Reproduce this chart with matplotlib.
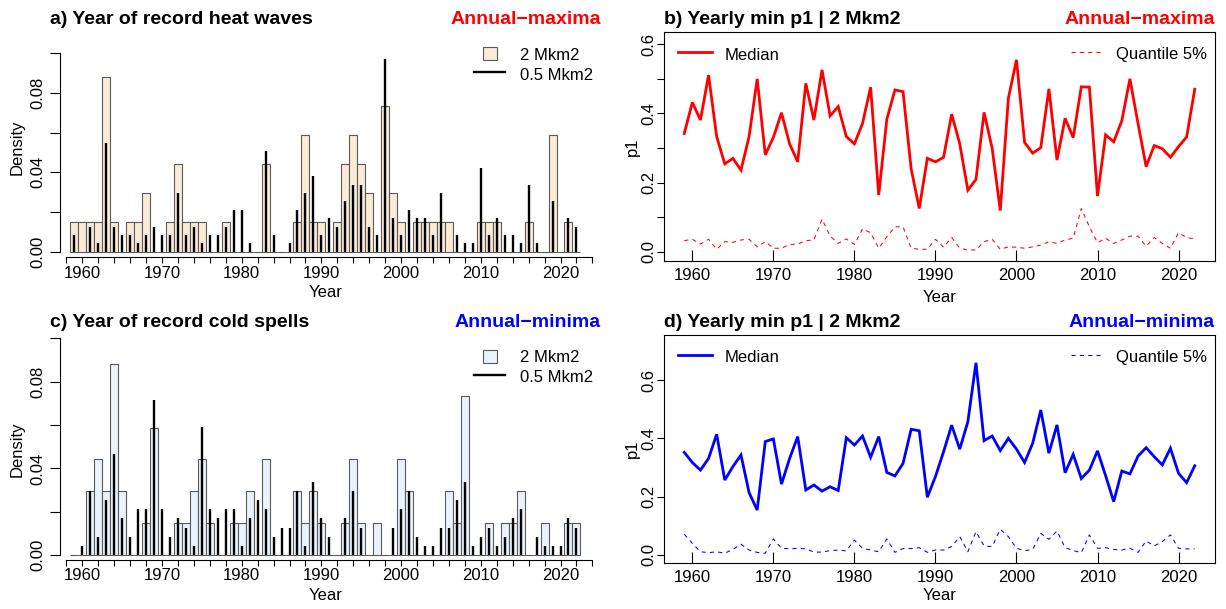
import numpy as np
import matplotlib
matplotlib.use("Agg")
import matplotlib.pyplot as plt
from matplotlib.patches import Rectangle
from matplotlib.lines import Line2D

plt.rcParams['font.family'] = ['Liberation Sans', 'DejaVu Sans']

# ---- data ----
years = np.arange(1959, 2023)

# record counts per year, 2 Mkm2 regions (histogram, density = count / total)
heat_2mkm2 = [1, 1, 1, 1, 6, 1, 0, 1, 1, 2,
              0, 0, 1, 3, 1, 1, 1, 0, 0, 1,
              0, 0, 0, 0, 3, 0, 0, 0, 1, 4,
              1, 1, 0, 1, 3, 4, 3, 2, 0, 5,
              2, 1, 0, 1, 1, 1, 1, 1, 0, 0,
              0, 1, 1, 1, 0, 0, 0, 1, 0, 0,
              4, 0, 1, 0]
cold_2mkm2 = [0, 0, 2, 3, 2, 6, 2, 0, 0, 1,
              4, 0, 0, 1, 1, 2, 3, 1, 0, 0,
              1, 1, 2, 0, 3, 0, 0, 0, 2, 1,
              2, 1, 0, 0, 1, 3, 1, 0, 1, 0,
              0, 3, 2, 0, 0, 0, 0, 2, 1, 5,
              0, 0, 1, 0, 1, 1, 2, 0, 0, 1,
              0, 0, 1, 1]
# record counts per year, 0.5 Mkm2 regions
heat_05mkm2 = [2, 0, 3, 1, 13, 3, 2, 2, 1, 2,
               3, 2, 2, 7, 2, 3, 1, 2, 2, 3,
               5, 5, 1, 0, 12, 2, 0, 1, 5, 7,
               9, 2, 4, 3, 6, 8, 8, 3, 2, 23,
               4, 2, 5, 4, 4, 2, 7, 0, 2, 1,
               1, 10, 2, 4, 2, 2, 1, 8, 1, 0,
               6, 0, 4, 3]
cold_05mkm2 = [0, 1, 7, 2, 6, 11, 4, 2, 5, 5,
               17, 5, 2, 4, 3, 1, 14, 5, 4, 5,
               5, 1, 4, 6, 5, 2, 3, 3, 7, 1,
               8, 4, 2, 0, 4, 7, 3, 0, 0, 0,
               3, 5, 7, 2, 1, 1, 3, 3, 6, 8,
               1, 2, 3, 1, 2, 4, 5, 0, 2, 1,
               1, 1, 4, 3]

# yearly min p1 | 2 Mkm2
max_median = [0.342, 0.432, 0.381, 0.511, 0.333, 0.254, 0.270, 0.236, 0.333, 0.500,
              0.280, 0.331, 0.402, 0.312, 0.260, 0.487, 0.381, 0.526, 0.393, 0.420,
              0.333, 0.312, 0.371, 0.476, 0.164, 0.383, 0.468, 0.463, 0.240, 0.125,
              0.270, 0.260, 0.273, 0.398, 0.312, 0.178, 0.209, 0.403, 0.299, 0.119,
              0.444, 0.555, 0.316, 0.285, 0.301, 0.471, 0.265, 0.386, 0.330, 0.477,
              0.476, 0.161, 0.338, 0.318, 0.379, 0.500, 0.371, 0.246, 0.307, 0.298,
              0.273, 0.304, 0.332, 0.470]
max_q05 = [0.032, 0.036, 0.022, 0.036, 0.007, 0.029, 0.027, 0.034, 0.036, 0.014,
           0.029, 0.010, 0.010, 0.021, 0.022, 0.032, 0.034, 0.094, 0.045, 0.024,
           0.037, 0.021, 0.066, 0.055, 0.010, 0.043, 0.072, 0.072, 0.010, 0.007,
           0.007, 0.036, 0.013, 0.041, 0.010, 0.005, 0.005, 0.029, 0.036, 0.007,
           0.014, 0.013, 0.010, 0.014, 0.019, 0.029, 0.024, 0.034, 0.039, 0.125,
           0.072, 0.026, 0.039, 0.024, 0.034, 0.045, 0.045, 0.016, 0.041, 0.024,
           0.010, 0.055, 0.041, 0.037]
min_median = [0.352, 0.317, 0.291, 0.331, 0.414, 0.257, 0.303, 0.343, 0.214, 0.154,
              0.389, 0.398, 0.243, 0.331, 0.406, 0.223, 0.240, 0.219, 0.234, 0.221,
              0.402, 0.377, 0.408, 0.335, 0.406, 0.283, 0.271, 0.314, 0.431, 0.426,
              0.198, 0.269, 0.354, 0.445, 0.363, 0.457, 0.659, 0.392, 0.408, 0.358,
              0.400, 0.363, 0.317, 0.383, 0.497, 0.349, 0.446, 0.282, 0.345, 0.262,
              0.291, 0.357, 0.272, 0.183, 0.288, 0.278, 0.339, 0.368, 0.337, 0.309,
              0.366, 0.280, 0.248, 0.306]
min_q05 = [0.071, 0.040, 0.011, 0.008, 0.011, 0.006, 0.019, 0.037, 0.017, 0.009,
           0.006, 0.055, 0.023, 0.021, 0.023, 0.021, 0.010, 0.010, 0.015, 0.017,
           0.014, 0.051, 0.023, 0.017, 0.011, 0.055, 0.009, 0.022, 0.022, 0.025,
           0.009, 0.017, 0.017, 0.029, 0.063, 0.011, 0.080, 0.031, 0.029, 0.088,
           0.063, 0.023, 0.015, 0.019, 0.074, 0.054, 0.082, 0.025, 0.015, 0.008,
           0.069, 0.023, 0.025, 0.019, 0.017, 0.023, 0.009, 0.048, 0.031, 0.046,
           0.069, 0.023, 0.021, 0.021]

W, H = 1226, 609
fig = plt.figure(figsize=(W / 100, H / 100), dpi=100)


def px_rect(l, t, r, b):
    return [l / W, 1 - b / H, (r - l) / W, (b - t) / H]


def ftext(x, y, s, **kw):
    fig.text(x / W, 1 - y / H, s, **kw)


def to_ax(box, x, y):
    l, t, r, b = box
    return (x - l) / (r - l), (b - y) / (b - t)


TITLE = 14
FS = 12


def hist_panel(box, ylim, xaxis_y, c2, c05, fill, title, tag, tag_col, dy):
    ax = fig.add_axes(px_rect(*box))
    c2 = np.asarray(c2, float)
    c05 = np.asarray(c05, float)
    ax.bar(years, c2 / c2.sum(), width=1.0, color=fill, edgecolor='#5a5a5a',
           linewidth=0.8, zorder=1)
    ax.vlines(years, 0, c05 / c05.sum(), color='black', linewidth=1.7, zorder=2)
    ax.set_xlim(1955.95, 2025.08)
    ax.set_ylim(*ylim)
    for s in ('top', 'right'):
        ax.spines[s].set_visible(False)
    ax.spines['left'].set_position(('data', 1957.25))
    ax.spines['left'].set_bounds(0, 0.10)
    ax.spines['bottom'].set_position(('data', xaxis_y))
    ax.spines['bottom'].set_bounds(1958, 2024)
    xt = np.arange(1958, 2025, 2)
    ax.set_xticks(xt)
    ax.set_xticklabels([str(v) if v % 10 == 0 else '' for v in xt], fontsize=FS)
    yt = np.arange(0, 0.101, 0.02)
    ax.set_yticks(yt)
    ax.set_yticklabels(['0.00', '', '0.04', '', '0.08', ''], fontsize=FS,
                       rotation=90, va='center')
    ax.tick_params(axis='x', direction='out', length=4, width=0.8, pad=2)
    ax.tick_params(axis='y', direction='out', length=7.2, width=0.8, pad=3.5)
    ax.set_xlabel('Year', fontsize=FS)
    ax.xaxis.label.set_va('baseline')
    ax.xaxis.set_label_coords(*to_ax(box, 325.5, 297 + dy))
    ax.set_ylabel('Density', fontsize=FS)
    ax.yaxis.label.set_va('center')
    ax.yaxis.set_label_coords(*to_ax(box, 17, (box[1] + box[3]) / 2))
    ftext(50, 24.5 + dy, title, fontsize=TITLE, fontweight='bold', va='baseline')
    ftext(601, 24.5 + dy, tag, fontsize=TITLE, fontweight='bold', color=tag_col,
          ha='right', va='baseline')
    # legend
    fig.add_artist(Rectangle((483 / W, 1 - (60 + dy) / H), 14 / W, 13 / H,
                             transform=fig.transFigure, facecolor=fill,
                             edgecolor='#5a5a5a', linewidth=0.8))
    fig.add_artist(Line2D([474 / W, 505 / W], [1 - (72 + dy) / H] * 2,
                          transform=fig.transFigure, color='black', linewidth=1.7))
    ftext(520, 60 + dy, '2 Mkm2', fontsize=FS, va='baseline')
    ftext(520, 80 + dy, '0.5 Mkm2', fontsize=FS, va='baseline')
    return ax


def line_panel(box, ylim, med, q05, col, title, tag, yticks, ylabels, dy):
    ax = fig.add_axes(px_rect(*box))
    ax.plot(years, med, color=col, linewidth=2.0, solid_joinstyle='miter')
    ax.plot(years, q05, color=col, linewidth=0.75, linestyle=(0, (4, 4)))
    ax.set_xlim(1956.5, 2024.5)
    ax.set_ylim(*ylim)
    for s in ax.spines.values():
        s.set_linewidth(0.8)
    ax.set_xticks(np.arange(1960, 2021, 10))
    ax.set_xticklabels([str(v) for v in range(1960, 2021, 10)], fontsize=FS)
    ax.set_yticks(yticks)
    ax.set_yticklabels(ylabels, fontsize=FS, rotation=90, va='center')
    ax.tick_params(axis='x', direction='in', length=8, width=0.8, pad=5)
    ax.tick_params(axis='y', direction='out', length=5.3, width=0.8, pad=0)
    ax.set_xlabel('Year', fontsize=FS)
    ax.xaxis.label.set_va('baseline')
    ax.xaxis.set_label_coords(*to_ax(box, 939.5, 302 + dy - (4 if dy else 0)))
    ax.set_ylabel('p1', fontsize=FS)
    ax.yaxis.label.set_va('center')
    ax.yaxis.set_label_coords(*to_ax(box, 632, (box[1] + box[3]) / 2))
    ftext(664, 24.5 + dy, title, fontsize=TITLE, fontweight='bold', va='baseline')
    ftext(1215, 24.5 + dy, tag, fontsize=TITLE, fontweight='bold', color=col,
          ha='right', va='baseline')
    yl = 52.3 + dy
    fig.add_artist(Line2D([678 / W, 712 / W], [1 - yl / H] * 2,
                          transform=fig.transFigure, color=col, linewidth=2.0))
    fig.add_artist(Line2D([1071 / W, 1100 / W], [1 - yl / H] * 2,
                          transform=fig.transFigure, color=col, linewidth=0.75,
                          linestyle=(0, (4, 4))))
    ftext(725, 59.5 + dy, 'Median', fontsize=FS, va='baseline')
    ftext(1207, 59.5 + dy, 'Quantile 5%', fontsize=FS, va='baseline', ha='right')
    return ax


hist_panel((50, 32, 601, 262), (-0.0052, 0.1107), -0.0029,
           heat_2mkm2, heat_05mkm2, '#FAEBD7',
           'a) Year of record heat waves', 'Annual\u2212maxima', 'red', 0)
hist_panel((50, 335, 601, 563), (-0.0037, 0.1016), -0.0023,
           cold_2mkm2, cold_05mkm2, '#EAF2FB',
           'c) Year of record cold spells', 'Annual\u2212minima', 'blue', 302.5)

line_panel((664, 32.3, 1215, 261), (-0.0269, 0.6347), max_median, max_q05, 'red',
           'b) Yearly min p1 | 2 Mkm2', 'Annual\u2212maxima',
           np.arange(0, 0.61, 0.1), ['0.0', '', '0.2', '', '0.4', '', '0.6'], 0)
line_panel((664, 335, 1215, 563.3), (-0.0285, 0.7543), min_median, min_q05, 'blue',
           'd) Yearly min p1 | 2 Mkm2', 'Annual\u2212minima',
           np.arange(0, 0.61, 0.2), ['0.0', '0.2', '0.4', '0.6'], 302.5)

fig.savefig('out.png', dpi=100)
